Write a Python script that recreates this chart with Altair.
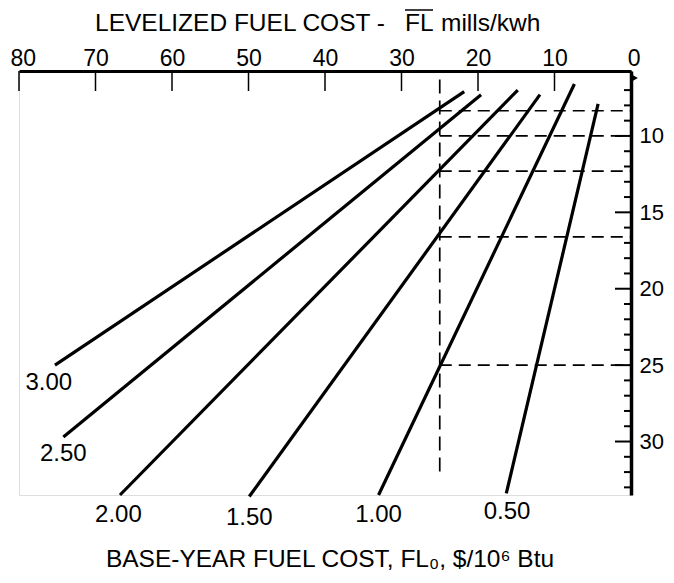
import altair as alt
import pandas as pd

# ---- data ----
curve_labels = ["3.00", "2.50", "2.00", "1.50", "1.00", "0.50"]
top_fl = [21.8, 19.6, 14.8, 11.9, 7.4, 4.3]
top_y = [7.1, 7.3, 7.0, 7.3, 6.6, 7.9]
bot_fl = [75.3, 74.2, 66.8, 49.9, 33.0, 16.3]
bot_y = [25.0, 29.7, 33.5, 33.6, 33.5, 33.4]
label_fl = [76.1, 74.2, 67.0, 49.9, 33.0, 16.2]
label_y = [26.2, 30.8, 34.8, 35.0, 34.8, 34.6]

dash_x = 25
dash_x_top, dash_x_bottom = 6.3, 32.1
dash_h_y = [8.35, 10.0, 12.3, 16.6, 25.0]

top_ticks = [0, 10, 20, 30, 40, 50, 60, 70, 80]
right_labels = [10, 15, 20, 25, 30]
right_minor = [v for v in range(7, 34) if v % 5 != 0]
right_major = [10, 15, 20, 25, 30]

title_left = "LEVELIZED FUEL COST -"
title_mid = "FL"
title_right = "mills/kwh"
bottom_title = "BASE-YEAR FUEL COST, FL\u2080, $/10\u2076 Btu"

FONT = "Liberation Sans"
FS_TICK = 23
FS_TEXT = 24
FS_TITLE = 24.5
W, H = 612, 424

xscale = alt.Scale(domain=[0, 80], reverse=True, nice=False, zero=False)
yscale = alt.Scale(domain=[5.75, 33.5], reverse=True, nice=False, zero=False)

xaxis = alt.Axis(orient="top", values=top_ticks, ticks=False, domainWidth=3,
                 domainColor="black", labelFont=FONT, labelFontSize=FS_TICK,
                 labelColor="black", labelPadding=1, labelFlush=True,
                 labelFlushOffset=9, labelOverlap=False, title=None, grid=False)
yaxis = alt.Axis(orient="right", values=right_labels, ticks=False, domainWidth=3.5,
                 domainColor="black", labelFont=FONT, labelFontSize=22,
                 labelColor="black", labelPadding=8, labelFlush=False,
                 labelOverlap=False, grid=False, title=None)


def X(f):
    return alt.X(f, type="quantitative", scale=xscale, axis=xaxis)


def Y(f):
    return alt.Y(f, type="quantitative", scale=yscale, axis=yaxis)


curves_df = pd.DataFrame({"lab": curve_labels, "x1": top_fl, "y1": top_y,
                          "x2": bot_fl, "y2": bot_y, "lx": label_fl, "ly": label_y})

curves = alt.Chart(curves_df).mark_rule(strokeWidth=3.2, color="black").encode(
    x=X("x1"), x2="x2", y=Y("y1"), y2="y2")

curve_text = alt.Chart(curves_df).mark_text(font=FONT, fontSize=FS_TEXT, color="black").encode(
    x=X("lx"), y=Y("ly"), text="lab")

vdash = alt.Chart(pd.DataFrame({"x": [dash_x], "y1": [dash_x_top], "y2": [dash_x_bottom]})).mark_rule(
    strokeWidth=1.7, color="black", strokeDash=[14, 7]).encode(x=X("x"), y=Y("y1"), y2="y2")

hdash = alt.Chart(pd.DataFrame({"y": dash_h_y, "x1": [dash_x] * len(dash_h_y),
                                "x2": [0] * len(dash_h_y)})).mark_rule(
    strokeWidth=1.7, color="black", strokeDash=[12, 7]).encode(x=X("x1"), x2="x2", y=Y("y"))

tticks = alt.Chart(pd.DataFrame({"t": top_ticks})).mark_rule(strokeWidth=1.5, color="black").encode(
    x=X("t"), y=alt.value(0), y2=alt.value(20))

rminor = alt.Chart(pd.DataFrame({"t": right_minor})).mark_rule(strokeWidth=2, color="black").encode(
    y=Y("t"), x=alt.value(W - 7), x2=alt.value(W))

rmajor = alt.Chart(pd.DataFrame({"t": right_major})).mark_rule(strokeWidth=2, color="black").encode(
    y=Y("t"), x=alt.value(W - 16), x2=alt.value(W))

arrow = alt.Chart(pd.DataFrame({"a": [1]})).mark_point(
    shape="triangle-right", filled=True, size=45, color="black", opacity=1).encode(
    x=alt.value(W + 4), y=alt.value(7))

# top title in three pieces so that "FL" can carry its overbar
TB = -40  # baseline of the top title, relative to the plot top
t_left = alt.Chart(pd.DataFrame({"t": [title_left]})).mark_text(
    font=FONT, fontSize=FS_TITLE, color="black", baseline="alphabetic", align="right").encode(
    x=alt.value(366), y=alt.value(TB), text="t")
t_mid = alt.Chart(pd.DataFrame({"t": [title_mid]})).mark_text(
    font=FONT, fontSize=FS_TITLE, color="black", baseline="alphabetic", align="left").encode(
    x=alt.value(386), y=alt.value(TB), text="t")
t_bar = alt.Chart(pd.DataFrame({"t": [title_mid]})).mark_rule(strokeWidth=1.5, color="black").encode(
    x=alt.value(386), x2=alt.value(414), y=alt.value(TB - 21))
t_right = alt.Chart(pd.DataFrame({"t": [title_right]})).mark_text(
    font=FONT, fontSize=FS_TITLE, color="black", baseline="alphabetic", align="left").encode(
    x=alt.value(422), y=alt.value(TB), text="t")

btitle = alt.Chart(pd.DataFrame({"t": [bottom_title]})).mark_text(
    font=FONT, fontSize=24.5, color="black").encode(
    x=alt.value(311), y=alt.value(489), text="t")

chart = alt.layer(vdash, hdash, curves, curve_text, tticks, rminor, rmajor, arrow,
                  t_left, t_mid, t_bar, t_right, btitle).properties(
    width=W, height=H,
    autosize=alt.AutoSizeParams(type="none"),
    padding={"left": 11, "top": 63, "right": 35, "bottom": 80},
).configure_view(strokeWidth=0).configure(background="white")

chart.save("out.html", embed_options={"renderer": "svg", "actions": False})
